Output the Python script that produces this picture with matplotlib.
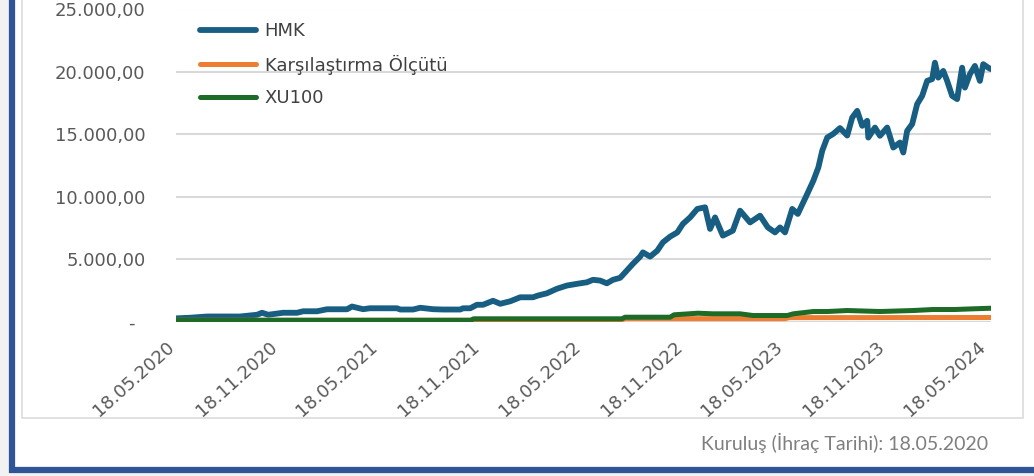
import numpy as np
import pandas as pd
import matplotlib
matplotlib.use("Agg")
import matplotlib.pyplot as plt
import matplotlib.dates as mdates
from matplotlib.patches import Rectangle
from matplotlib.transforms import ScaledTranslation

# HMK fon getirisi
hmk_dates = ["2020-05-18", "2020-06-12", "2020-07-13", "2020-09-10", "2020-10-11", "2020-10-20",
             "2020-10-31", "2020-11-27", "2020-12-22", "2021-01-02", "2021-01-27", "2021-02-14",
             "2021-03-22", "2021-03-31", "2021-04-20", "2021-05-02", "2021-06-20", "2021-06-26",
             "2021-07-19", "2021-08-01", "2021-08-24", "2021-09-11", "2021-10-12", "2021-10-17",
             "2021-10-30", "2021-11-11", "2021-11-22", "2021-12-10", "2021-12-23", "2022-01-10",
             "2022-01-28", "2022-02-20", "2022-03-01", "2022-03-17", "2022-04-04", "2022-04-22",
             "2022-05-16", "2022-05-28", "2022-06-08", "2022-06-21", "2022-07-03", "2022-07-14",
             "2022-07-27", "2022-08-08", "2022-08-19", "2022-09-01", "2022-09-06", "2022-09-19",
             "2022-10-02", "2022-10-12", "2022-10-25", "2022-11-07", "2022-11-17", "2022-11-30",
             "2022-12-13", "2022-12-27", "2023-01-05", "2023-01-14", "2023-01-28", "2023-02-15",
             "2023-02-28", "2023-03-18", "2023-04-05", "2023-04-19", "2023-05-02", "2023-05-11",
             "2023-05-20", "2023-06-02", "2023-06-12", "2023-06-29", "2023-07-10", "2023-07-19",
             "2023-07-26", "2023-08-04", "2023-08-15", "2023-08-27", "2023-09-09", "2023-09-18",
             "2023-09-27", "2023-10-06", "2023-10-15", "2023-10-17", "2023-10-29", "2023-11-07",
             "2023-11-20", "2023-12-01", "2023-12-13", "2023-12-19", "2023-12-26", "2024-01-04",
             "2024-01-13", "2024-01-22", "2024-01-31", "2024-02-09", "2024-02-14", "2024-02-20",
             "2024-02-29", "2024-03-07", "2024-03-16", "2024-03-25", "2024-04-03", "2024-04-08",
             "2024-04-17", "2024-04-26", "2024-05-05", "2024-05-11", "2024-05-20", "2024-05-25"]
hmk_values = [250, 300, 400, 400, 540, 700,
              540, 700, 700, 820, 820, 980,
              980, 1200, 985, 1060, 1060, 960,
              960, 1100, 985, 960, 960, 1060,
              1060, 1340, 1340, 1660, 1420, 1620,
              1940, 1940, 2080, 2260, 2620, 2880,
              3060, 3140, 3340, 3280, 3060, 3340,
              3500, 4080, 4620, 5200, 5540, 5200,
              5680, 6340, 6800, 7140, 7820, 8340,
              9020, 9150, 7420, 8340, 6880, 7280,
              8880, 7940, 8480, 7540, 7140, 7540,
              7140, 9020, 8620, 10220, 11280, 12340,
              13680, 14740, 15040, 15500, 14900, 16340,
              16880, 15680, 16080, 14740, 15540, 14880,
              15540, 13940, 14340, 13540, 15280, 15820,
              17420, 18080, 19280, 19420, 20740, 19540,
              20080, 19280, 18080, 17820, 20340, 18740,
              19820, 20480, 19280, 20620, 20340, 20220]

# Karsilastirma olcutu
bm_dates = ["2020-05-18", "2021-11-01", "2021-11-08", "2022-07-30", "2022-08-05",
            "2023-05-20", "2023-05-28", "2024-05-25"]
bm_values = [100, 100, 140, 140, 230, 230, 310, 320]

# XU100
xu_dates = ["2020-05-18", "2021-10-31", "2021-11-05", "2022-07-30", "2022-08-05",
            "2022-10-25", "2022-11-01", "2022-12-14", "2023-01-10", "2023-02-28",
            "2023-03-23", "2023-05-24", "2023-06-04", "2023-07-10", "2023-08-04",
            "2023-09-09", "2023-11-07", "2024-01-06", "2024-02-10", "2024-03-20",
            "2024-04-23", "2024-05-25"]
xu_values = [100, 100, 216, 216, 344,
             344, 536, 664, 616, 616,
             480, 480, 616, 800, 800,
             880, 800, 880, 960, 960,
             1016, 1064]

labels = ["HMK", "Karşılaştırma Ölçütü", "XU100"]
colors = ["#175E82", "#ED7D31", "#1D6B27"]
tick_dates = ["2020-05-18", "2020-11-18", "2021-05-18", "2021-11-18", "2022-05-18",
              "2022-11-18", "2023-05-18", "2023-11-18", "2024-05-18"]
footer = "Kuruluş (İhraç Tarihi): 18.05.2020"

W, H = 1034, 476
fig = plt.figure(figsize=(W / 100, H / 100), dpi=100, facecolor="#f2f2f2")

def fx(px):
    return px / W

def fy(py):
    return 1 - py / H

# mavi cerceve ve gri grafik alani
fig.add_artist(Rectangle((fx(12), fy(470)), fx(1100), 1.2, transform=fig.transFigure,
                         facecolor="white", edgecolor="#2F5597", linewidth=4.5, zorder=0))
fig.add_artist(Rectangle((fx(21.5), fy(417.5)), fx(1023 - 21.5), 1.2, transform=fig.transFigure,
                         facecolor="white", edgecolor="#d9d9d9", linewidth=1.1, zorder=0.5))

ax = fig.add_axes([fx(176), fy(321.5), fx(991 - 176), (321.5 - 9.5) / H])
ax.set_facecolor("none")
ax.set_zorder(5)

series = [(hmk_dates, hmk_values, 4.2), (bm_dates, bm_values, 3.6), (xu_dates, xu_values, 3.6)]
for (d, v, lw), lab, c in zip(series, labels, colors):
    ax.plot(pd.to_datetime(d), v, color=c, lw=lw, label=lab,
            solid_capstyle="round", solid_joinstyle="round")

ax.set_xlim(pd.Timestamp("2020-05-18"), pd.Timestamp("2024-05-25"))
ax.set_ylim(0, 25000)
ax.set_yticks(np.arange(0, 25001, 5000))

def tr_fmt(v, pos):
    if v == 0:
        return "-"
    return f"{v:,.2f}".replace(",", "X").replace(".", ",").replace("X", ".")

ax.yaxis.set_major_formatter(plt.FuncFormatter(tr_fmt))
ax.set_xticks(pd.to_datetime(tick_dates))
ax.xaxis.set_major_formatter(mdates.DateFormatter("%d.%m.%Y"))

ax.grid(axis="y", color="#d9d9d9", lw=1.5)
ax.set_axisbelow(True)
for s in ax.spines.values():
    s.set_visible(False)
ax.tick_params(axis="y", length=0, pad=22, labelsize=13, labelcolor="#595959")
ax.tick_params(axis="x", length=0, pad=12, labelsize=13, labelcolor="#595959")
for t in ax.get_xticklabels():
    t.set_rotation(42)
    t.set_ha("right")
    t.set_va("top")
    t.set_rotation_mode("anchor")
    t.set_transform(t.get_transform() + ScaledTranslation(-7 / 72, 0, fig.dpi_scale_trans))
for t in ax.get_yticklabels():
    if t.get_text() == "-":
        t.set_transform(t.get_transform() + ScaledTranslation(-8 / 72, 0, fig.dpi_scale_trans))

leg = ax.legend(loc="upper left", bbox_to_anchor=(0.029, 0.959), frameon=False,
                fontsize=13, handlelength=3.1, handletextpad=0.5, labelspacing=0.8,
                borderpad=0, borderaxespad=0)
for t in leg.get_texts():
    t.set_color("#404040")

fig.text(fx(988), fy(443), footer, ha="right", va="center", fontsize=14,
         family="Lato", color="#7f7f7f")

fig.savefig("out.png", dpi=100, facecolor=fig.get_facecolor())
